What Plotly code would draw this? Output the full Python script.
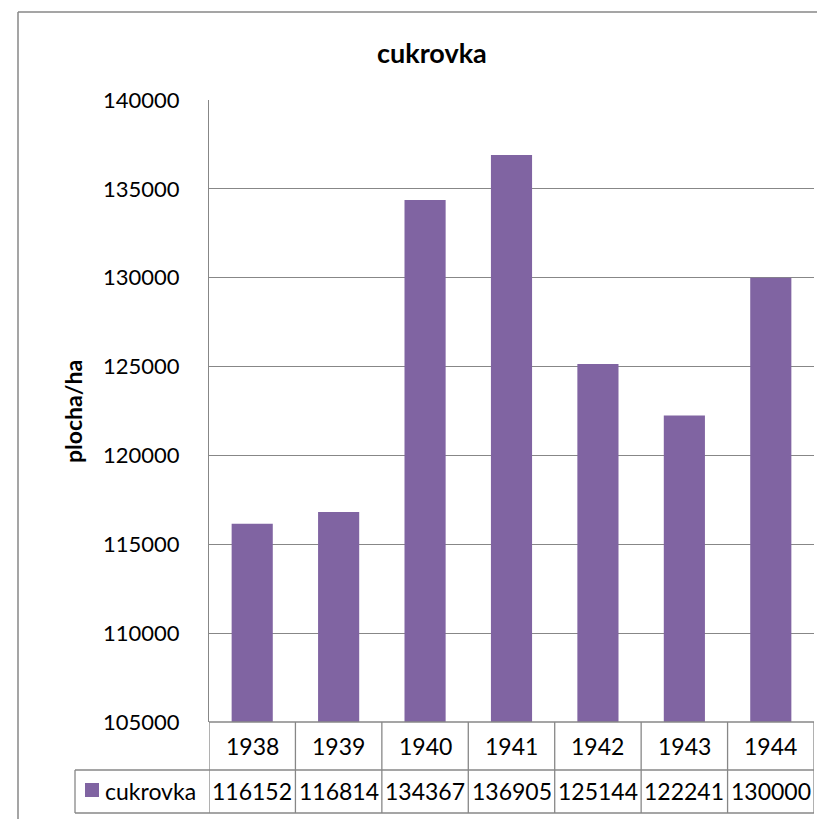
import plotly.graph_objects as go

# data
years = ['1938', '1939', '1940', '1941', '1942', '1943', '1944']
cukrovka = [116152, 116814, 134367, 136905, 125144, 122241, 130000]
series_name = 'cukrovka'
y_ticks = [105000, 110000, 115000, 120000, 125000, 130000, 135000, 140000]

OFF = 8                     # page body margin
W, H = 825 - 2 * OFF, 827 - 2 * OFF
L, R, T, B = 209, 814, 100, 722   # plot area in screen pixels
LINE = '#878787'
BAR = '#8064A2'
FONT = 'Lato'


def px_x(x):
    return (x - L) / (R - L)


def px_y(y):
    return (B - y) / (B - T)


fig = go.Figure()
fig.add_trace(go.Bar(
    x=years,
    y=cukrovka,
    name=series_name,
    marker=dict(color=BAR, line=dict(width=0)),
    width=0.476,
))

shapes = []
# outer chart border: only left and top edges are visible (cropped image)
shapes.append(dict(type='line', xref='paper', yref='paper',
                   x0=px_x(18), x1=px_x(18), y0=px_y(830), y1=px_y(12),
                   line=dict(color=LINE, width=1.5)))
shapes.append(dict(type='line', xref='paper', yref='paper',
                   x0=px_x(18), x1=px_x(830), y0=px_y(12), y1=px_y(12),
                   line=dict(color=LINE, width=1.5)))

# data table lines
row1, row2 = px_y(770), px_y(813)
for i in range(len(years) + 1):
    shapes.append(dict(type='line', xref='x', yref='paper',
                       x0=i - 0.5, x1=i - 0.5, y0=row2, y1=0,
                       line=dict(color=LINE, width=1.3)))
shapes.append(dict(type='line', xref='paper', yref='paper',
                   x0=0, x1=1, y0=0, y1=0, line=dict(color=LINE, width=1.3)))
for yy in (row1, row2):
    shapes.append(dict(type='line', xref='paper', yref='paper',
                       x0=px_x(75), x1=1, y0=yy, y1=yy,
                       line=dict(color=LINE, width=1.3)))
shapes.append(dict(type='line', xref='paper', yref='paper',
                   x0=px_x(75), x1=px_x(75), y0=row2, y1=row1,
                   line=dict(color=LINE, width=1.3)))
# legend key
shapes.append(dict(type='rect', xref='paper', yref='paper',
                   x0=px_x(85), x1=px_x(99), y0=px_y(797), y1=px_y(783),
                   fillcolor=BAR, line=dict(width=0)))

annotations = []
for i, (yr, v) in enumerate(zip(years, cukrovka)):
    annotations.append(dict(x=i, xref='x', y=px_y(746), yref='paper',
                            text=yr, showarrow=False,
                            xanchor='center', yanchor='middle',
                            font=dict(family=FONT, size=23, color='black')))
    annotations.append(dict(x=i, xref='x', y=px_y(791), yref='paper',
                            text=str(v), showarrow=False,
                            xanchor='center', yanchor='middle',
                            font=dict(family=FONT, size=23, color='black')))
annotations.append(dict(x=px_x(103), xref='paper', y=px_y(791), yref='paper',
                        text=series_name, showarrow=False,
                        xanchor='left', yanchor='middle',
                        font=dict(family=FONT, size=23, color='black')))
# title
annotations.append(dict(x=px_x(432), xref='paper', y=px_y(52), yref='paper',
                        text='<b>cukrovka</b>', showarrow=False,
                        xanchor='center', yanchor='middle',
                        font=dict(family=FONT, size=27, color='black')))
# y axis title
annotations.append(dict(x=px_x(73), xref='paper', y=px_y(412), yref='paper',
                        text='<b>plocha/ha</b>', showarrow=False, textangle=-90,
                        xanchor='center', yanchor='middle',
                        font=dict(family=FONT, size=23, color='black')))

fig.update_layout(
    width=W, height=H,
    margin=dict(l=L - OFF, r=W - (R - OFF), t=T - OFF, b=H - (B - OFF)),
    paper_bgcolor='white',
    plot_bgcolor='white',
    showlegend=False,
    bargap=0.524,
    shapes=shapes,
    annotations=annotations,
    xaxis=dict(type='category', range=[-0.5, len(years) - 0.5],
               showticklabels=False, showgrid=False,
               zeroline=False, showline=False, ticks=''),
    yaxis=dict(range=[105000, 140000], tickvals=y_ticks,
               tickformat='d', showgrid=True, gridcolor=LINE, gridwidth=1.3,
               showline=True, linecolor=LINE, linewidth=1.3,
               zeroline=False, ticks='', ticklabelstandoff=24,
               tickfont=dict(family=FONT, size=22, color='black')),
)

fig.write_html("out.html", config={'displayModeBar': False})
